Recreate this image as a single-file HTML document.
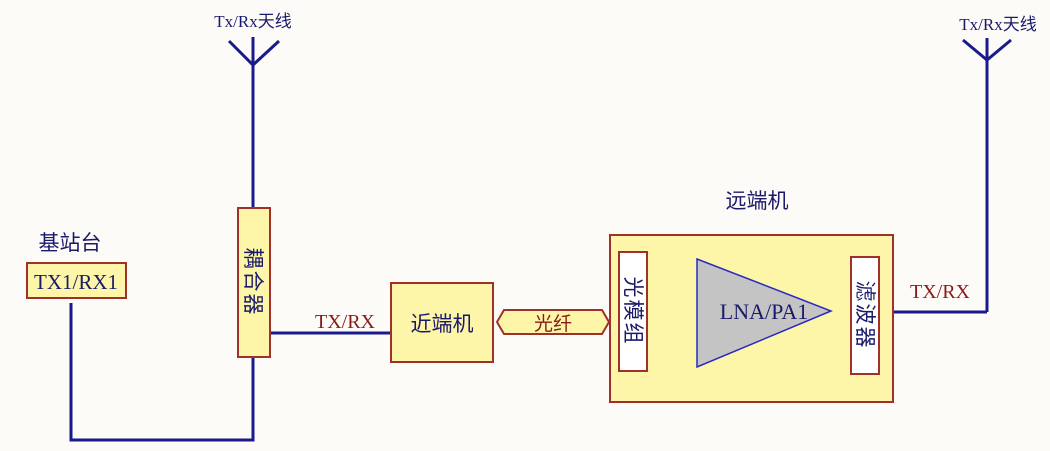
<!DOCTYPE html>
<html><head><meta charset="utf-8"><style>body{margin:0;background:#fdfbf7}</style></head><body>
<svg width="1050" height="451" viewBox="0 0 1050 451" xmlns="http://www.w3.org/2000/svg" style="display:block">
<rect width="1050" height="451" fill="#fdfbf7"/>
<g stroke="#1a1a8c" stroke-width="3" fill="none">
<line x1="253" y1="37" x2="253" y2="207"/>
<polyline points="229,41 253,65 279,41"/>
<polyline points="71,303 71,440 253,440 253,358"/>
<line x1="271" y1="333" x2="391" y2="333"/>
<line x1="987" y1="38" x2="987" y2="312"/>
<polyline points="963,40 987,60 1011,40"/>
<line x1="877" y1="312" x2="987" y2="312"/>
<line x1="645" y1="311" x2="697" y2="311"/>
<line x1="831" y1="311" x2="851" y2="311"/>
</g>
<rect x="27" y="263" width="99" height="35" fill="#fdf6a8" stroke="#a0302a" stroke-width="2"/>
<rect x="238" y="208" width="32" height="149" fill="#fdf6a8" stroke="#a0302a" stroke-width="2"/>
<rect x="391" y="283" width="102" height="79" fill="#fdf6a8" stroke="#a0302a" stroke-width="2"/>
<polygon points="497,322 504,310 602,310 609,322 602,334 504,334" fill="#fdf6a8" stroke="#a0302a" stroke-width="2"/>
<rect x="610" y="235" width="283" height="167" fill="#fdf6a8" stroke="#a0302a" stroke-width="2"/>
<rect x="619" y="252" width="28" height="119" fill="#fff" stroke="#a0302a" stroke-width="2"/>
<rect x="851" y="257" width="28" height="117" fill="#fff" stroke="#a0302a" stroke-width="2"/>
<polygon points="697,259 697,367 831,311" fill="#c4c4c4" stroke="#2a2ac0" stroke-width="1.5"/>
<g font-family="Liberation Serif, serif" fill="#1a1a6a">
<text x="253" y="27" font-size="17" text-anchor="middle">Tx/Rx<tspan font-family="Noto Sans CJK SC, sans-serif">天线</tspan></text>
<text x="998" y="30" font-size="17" text-anchor="middle">Tx/Rx<tspan font-family="Noto Sans CJK SC, sans-serif">天线</tspan></text>
<text x="76" y="289" font-size="21" text-anchor="middle">TX1/RX1</text>
<text x="764" y="319" font-size="22" text-anchor="middle">LNA/PA1</text>
</g>
<g font-family="Liberation Serif, serif" fill="#8a1a1a" font-size="20">
<text x="345" y="328" text-anchor="middle">TX/RX</text>
<text x="940" y="298" text-anchor="middle">TX/RX</text>
</g>
<g font-family="Noto Sans CJK SC, sans-serif" fill="#1a1a6a">
<text x="70" y="250" font-size="21" text-anchor="middle">基站台</text>
<text x="442" y="331" font-size="21" text-anchor="middle">近端机</text>
<text x="757" y="208" font-size="21" text-anchor="middle">远端机</text>
<text transform="translate(246,282) rotate(90)" font-size="21" text-anchor="middle" letter-spacing="2">耦合器</text>
<text transform="translate(626,311) rotate(90)" font-size="21" text-anchor="middle" letter-spacing="2">光模组</text>
<text transform="translate(858,315) rotate(90)" font-size="21" text-anchor="middle" letter-spacing="2">滤波器</text>
<text x="553" y="330" font-size="19" fill="#8a1a1a" text-anchor="middle">光纤</text>
</g>
</svg>
</body></html>
